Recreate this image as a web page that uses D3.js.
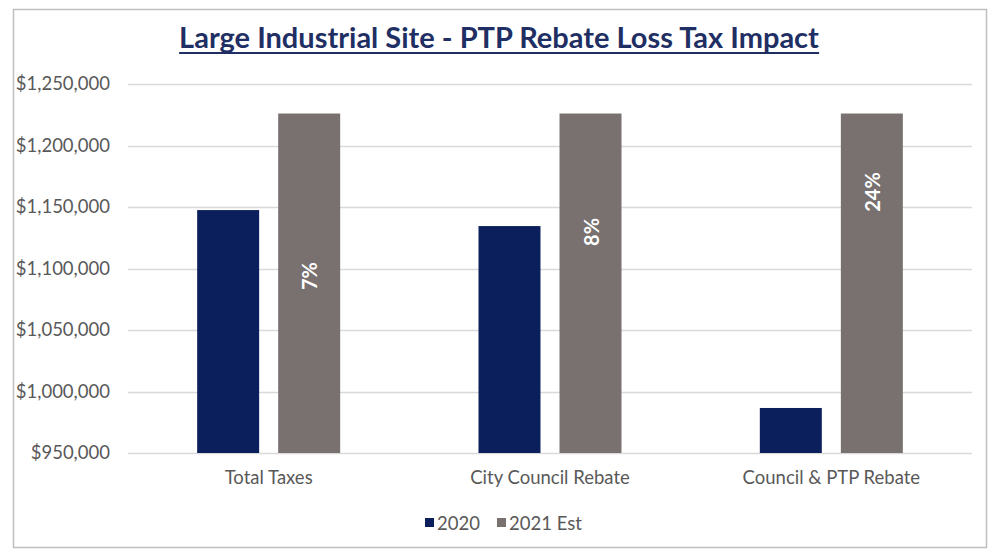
<!DOCTYPE html>
<html>
<head>
<meta charset="utf-8">
<script src="https://cdn.jsdelivr.net/npm/d3@7"></script>
<style>
  html, body { margin: 0; padding: 0; background: #fff; }
  svg { display: block; font-family: Lato, "Open Sans", sans-serif; }
</style>
</head>
<body>
<svg id="chart" width="994" height="560"></svg>
<script>
const categories = ["Total Taxes", "City Council Rebate", "Council & PTP Rebate"];
const seriesNames = ["2020", "2021 Est"];
const values2020 = [1147500, 1134500, 986600];
const values2021 = [1226000, 1226000, 1226000];
const changeLabels = ["7%", "8%", "24%"];
const changeLabelAt = [1093900, 1129700, 1162200];
const yTicks = [950000, 1000000, 1050000, 1100000, 1150000, 1200000, 1250000];
const title = "Large Industrial Site - PTP Rebate Loss Tax Impact";

const colors = ["#0A1F5C", "#787170"];
const svg = d3.select("#chart");
const FONT = "Lato, 'Open Sans', sans-serif";

// outer border
svg.append("rect").attr("x", 13.5).attr("y", 9.5).attr("width", 973).attr("height", 538)
  .attr("fill", "#fff").attr("stroke", "#BFBFBF").attr("stroke-width", 1.5);

const plot = { left: 128, right: 972, top: 84, bottom: 453 };
const groupW = 143;

const x0 = d3.scaleBand().domain(categories).range([plot.left, plot.right]);
const x1 = d3.scaleBand().domain(seriesNames).range([0, groupW]).paddingInner(0.235).paddingOuter(0);
const y = d3.scaleLinear().domain([950000, 1250000]).range([plot.bottom, plot.top]);

// gridlines
svg.append("g").selectAll("line").data(yTicks).join("line")
  .attr("x1", plot.left).attr("x2", plot.right)
  .attr("y1", d => Math.round(y(d)) + 0.5).attr("y2", d => Math.round(y(d)) + 0.5)
  .attr("stroke", "#D9D9D9").attr("stroke-width", 1.3);

// y axis labels
const yAxis = d3.axisLeft(y).tickValues(yTicks).tickSize(0).tickPadding(0)
  .tickFormat(d => "$" + d3.format(",")(d));
const gy = svg.append("g").attr("transform", `translate(110,0)`).call(yAxis);
gy.select(".domain").remove();
gy.selectAll("text").attr("fill", "#595959").style("font-size", "18.5px").style("font-family", FONT);

// bars
const data = categories.map((c, i) => ({ cat: c, vals: [values2020[i], values2021[i]], label: changeLabels[i], at: changeLabelAt[i] }));
const groups = svg.append("g").selectAll("g").data(data).join("g")
  .attr("transform", d => `translate(${x0(d.cat) + (x0.bandwidth() - groupW) / 2},0)`);

groups.selectAll("rect").data(d => d.vals.map((v, j) => ({ s: seriesNames[j], v, j }))).join("rect")
  .attr("x", d => x1(d.s)).attr("width", x1.bandwidth())
  .attr("y", d => y(d.v)).attr("height", d => y(950000) - y(d.v))
  .attr("fill", d => colors[d.j]);

// change labels rotated in 2021 bar
groups.append("text")
  .attr("transform", d => `translate(${x1("2021 Est") + x1.bandwidth() / 2},${y(d.at)}) rotate(-90)`)
  .attr("text-anchor", "middle").attr("dominant-baseline", "central")
  .attr("fill", "#fff").style("font-weight", "bold").style("font-size", "20px")
  .text(d => d.label);

// x axis labels
const xAxis = d3.axisBottom(x0).tickSize(0).tickPadding(0);
const gx = svg.append("g").attr("transform", `translate(0,${plot.bottom})`).call(xAxis);
gx.select(".domain").remove();
gx.selectAll("text").attr("fill", "#595959").attr("dy", null).attr("y", 31)
  .style("font-size", "18.5px").style("font-family", FONT);

// title
const t = svg.append("text").attr("x", 499).attr("y", 48).attr("text-anchor", "middle")
  .attr("fill", "#1F2F64").style("font-weight", "bold").style("font-size", "29px")
  .text(title);
const bb = t.node().getBBox();
svg.append("line").attr("x1", bb.x).attr("x2", bb.x + bb.width)
  .attr("y1", 53).attr("y2", 53).attr("stroke", "#1F2F64").attr("stroke-width", 2);

// legend
const legend = svg.append("g").attr("transform", "translate(0,523)");
const legX = [425, 497];
seriesNames.forEach((s, i) => {
  legend.append("rect").attr("x", legX[i]).attr("y", -5).attr("width", 9).attr("height", 9).attr("fill", colors[i]);
  legend.append("text").attr("x", legX[i] + 12).attr("y", 0).attr("dominant-baseline", "central")
    .attr("fill", "#595959").style("font-size", "18.5px").style("font-family", FONT).text(s);
});
</script>
</body>
</html>
